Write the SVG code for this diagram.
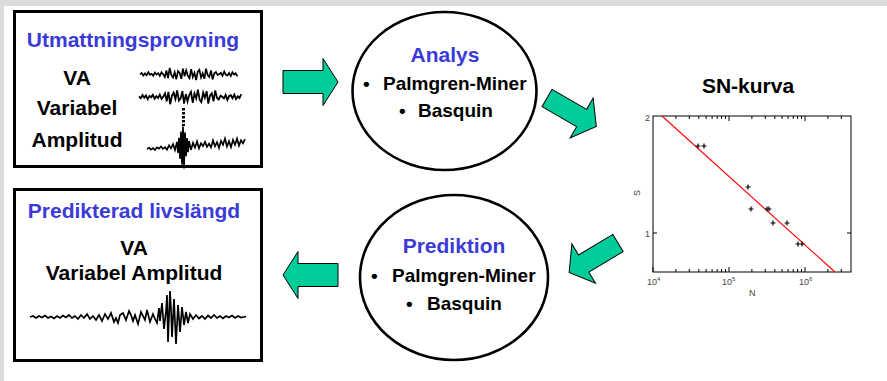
<svg xmlns="http://www.w3.org/2000/svg" xmlns:xlink="http://www.w3.org/1999/xlink" width="887" height="381" viewBox="0 0 887 381">
<style>
text{font-family:"Liberation Sans",Arial,sans-serif;font-weight:bold;}
.t{font-size:21px;fill:#000;text-anchor:middle;}
.h{font-size:21px;fill:#3a3ad8;text-anchor:middle;}
.b{font-size:19px;fill:#000;}
.box{fill:#fff;stroke:#000;stroke-width:3;}
.ell{fill:#fff;stroke:#000;stroke-width:2.6;}
.arr{fill:#00cc99;stroke:#000;stroke-width:1;stroke-linejoin:miter;}
.wave{fill:none;stroke:#000;stroke-width:1.7;stroke-linejoin:miter;}
.ax{fill:none;stroke:#000;stroke-width:1;}
.tl{font-family:"Liberation Sans",Arial,sans-serif;font-weight:normal;font-size:9px;fill:#444;}
.pt{stroke:#000;stroke-width:1.2;fill:none;}
</style>
<defs>
<path id="noise" d="M0 0.4 L1.7 -1 L3.3 1.6 L5 -0.6 L6.6 1.2 L8.3 -1.8 L9.9 0.8 L11.6 -0.2 L13.2 1.8 L14.9 -1.4 L16.5 0.6 L18.2 -0.8 L19.8 2 L21.5 -1.6 L23.1 0.2 L24.8 3 L26.4 -3.6 L28 4.2 L29.7 -6 L31.4 1.2 L33 3.6 L34.7 -1.8 L36.3 5.4 L38 -3 L39.6 -1.2 L41.3 4.8 L42.9 -5.4 L44.6 2.4 L46.2 -3.6 L47.9 1.8 L49.5 4.2 L51.2 -4.8 L52.8 3 L54.5 -1.2 L56.1 6 L57.8 -2.4 L59.4 -4.2 L61.1 3.6 L62.7 -0.6 L64.4 4.8 L66 -5.4 L67.7 1.2 L69.3 3 L71 -3.6 L72.6 5.4 L74.3 -0.75 L75.9 -2 L77.6 1 L79.2 0.25 L80.9 -1.25 L82.5 1.75 L84.2 -2.5 L85.8 0.75 L87.5 1.5 L89.1 -1 L90.8 2 L92.4 -1.75 L94.1 0.5 L95.7 -0.75 L97.4 2.25"/>
<path id="burst" d="M0 0 L2 -1 L4 1 L6 -0.5 L8 1.5 L10 -1 L12 0.5 L14 -1.5 L16 1 L18 -0.5 L20 2 L22 -2 L24 1 L26 -3 L28 3 L30 -5 L31 6 L32 -9 L33 12 L34 -15 L35 18 L36 -20 L37 22 L38 -14 L39 10 L40 -8 L41 6 L42 -5 L44 4 L46 -3 L48 2 L50 -4 L52 3 L54 -2 L56 1 L58 -3 L60 2 L62 -1 L64 3 L66 -4 L68 2 L70 -2 L72 4 L74 -3 L76 1 L78 -5 L80 3 L82 -2 L84 4 L86 -3 L88 2 L90 -4 L92 3 L94 -2 L96 1 L98 -3"/>
<path id="arrow" d="M0 -11.5 L40 -11.5 L40 -23.5 L55 0 L40 23.5 L40 11.5 L0 11.5 Z"/>
<path id="darrow" d="M0 -10 L40 -10 L40 -23 L57 0 L40 23 L40 10 L0 10 Z"/>
</defs>
<rect x="0" y="0" width="887" height="381" fill="#fff"/>
<rect x="0" y="0" width="887" height="6" fill="#dcdcdc"/>
<rect x="0" y="0" width="4" height="381" fill="#dcdcdc"/>

<g id="node-utmattning">
<rect class="box" x="14.5" y="11.5" width="247" height="155"/>
<text class="h" x="133" y="47">Utmattningsprovning</text>
<text class="t" x="77" y="85">VA</text>
<text class="t" x="77" y="115">Variabel</text>
<text class="t" x="77" y="147">Amplitud</text>
<use xlink:href="#noise" class="wave" transform="translate(140,74)"/>
<use xlink:href="#noise" class="wave" transform="translate(139,97) scale(1.05,-1.2)"/>
<line x1="183.5" y1="108" x2="183.5" y2="126" stroke="#000" stroke-width="3" stroke-dasharray="2.5,1.5"/>
<use xlink:href="#burst" class="wave" transform="translate(147,149) skewY(-4)"/>
</g>

<g id="node-predikterad">
<rect class="box" x="14.5" y="189.5" width="247" height="171"/>
<text class="h" x="134" y="218">Predikterad livslängd</text>
<text class="t" x="134" y="255">VA</text>
<text class="t" x="134" y="280">Variabel Amplitud</text>
<path class="wave" transform="translate(30,317)" d="M0 0 L3 -1 L6 1 L9 -1 L12 0.5 L15 -1.5 L18 1 L21 -0.5 L24 1.5 L27 -1 L30 1 L33 -1.5 L36 0.5 L39 -2 L42 1 L45 -1 L48 2 L51 -2 L54 1 L57 -3 L60 2 L63 -1 L66 3 L69 -2 L72 4 L75 -3 L78 2 L81 -4 L84 5 L86 1 L88 6 L90 -2 L93 -4 L96 3 L99 -6 L101 -2 L103 4 L105 -2 L108 7 L111 -5 L113 -1 L115 3 L117 -7 L120 5 L123 -3 L125 2 L127 6 L129 -9 L130 4 L132 -14 L134 12 L136 -6 L137 -22 L138 25 L140 -26 L141 -8 L142 20 L144 -18 L145 5 L146 27 L148 -12 L150 15 L152 -10 L154 8 L156 -5 L158 6 L160 -3 L163 2 L166 -2 L169 1.5 L172 -1 L175 2 L178 -1.5 L181 1 L184 -2 L187 1 L190 -1 L193 1.5 L196 -1 L199 0.5 L202 -1.5 L205 1 L208 -1 L211 0.5 L216 -0.5"/>
</g>

<g id="node-analys">
<ellipse class="ell" cx="444.5" cy="91" rx="92" ry="79"/>
<text class="h" x="445" y="62">Analys</text>
<text class="b" x="363" y="90">•</text>
<text class="b" x="383" y="90">Palmgren-Miner</text>
<text class="b" x="399" y="117">•</text>
<text class="b" x="418" y="117">Basquin</text>
</g>

<g id="node-prediktion">
<ellipse class="ell" cx="454" cy="277.5" rx="94" ry="82.5"/>
<text class="h" x="454" y="253">Prediktion</text>
<text class="b" x="371" y="282">•</text>
<text class="b" x="392" y="282">Palmgren-Miner</text>
<text class="b" x="406" y="310">•</text>
<text class="b" x="427" y="310">Basquin</text>
</g>

<g id="node-snkurva">
<text class="t" x="748" y="93">SN-kurva</text>
<rect x="653" y="116" width="198" height="156" fill="#fff" stroke="#000" stroke-width="1"/>
<path class="ax" d="M653 272v-5M675.9 272v-3M689.3 272v-3M698.8 272v-3M706.1 272v-3M712.1 272v-3M717.2 272v-3M721.6 272v-3M725.5 272v-3M729 272v-5M751.9 272v-3M765.3 272v-3M774.8 272v-3M782.1 272v-3M788.1 272v-3M793.2 272v-3M797.6 272v-3M801.5 272v-3M805 272v-5M827.9 272v-3M841.3 272v-3
M675.9 116v3M689.3 116v3M698.8 116v3M706.1 116v3M712.1 116v3M717.2 116v3M721.6 116v3M725.5 116v3M729 116v5M751.9 116v3M765.3 116v3M774.8 116v3M782.1 116v3M788.1 116v3M793.2 116v3M797.6 116v3M801.5 116v3M805 116v5M827.9 116v3M841.3 116v3
M653 233h4M851 233h-4"/>
<line x1="662" y1="116" x2="835" y2="272" stroke="#ff0000" stroke-width="1.1"/>
<path class="pt" d="M695.5 146h5M698 143.5v5M701.5 146h5M704 143.5v5M745.5 187h5M748 184.5v5M748.5 209h5M751 206.5v5M764.5 209h5M767 206.5v5M766.5 209h5M769 206.5v5M770.5 223h5M773 220.5v5M784.5 223h5M787 220.5v5M795.5 244h5M798 241.5v5M799.5 244h5M802 241.5v5"/>
<text class="tl" x="645" y="121">2</text>
<text class="tl" x="645" y="237">1</text>
<text class="tl" x="647" y="285">10<tspan font-size="6" dy="-4">4</tspan></text>
<text class="tl" x="722" y="285">10<tspan font-size="6" dy="-4">5</tspan></text>
<text class="tl" x="799" y="285">10<tspan font-size="6" dy="-4">6</tspan></text>
<text class="tl" x="749" y="296">N</text>
<text class="tl" x="640" y="193" transform="rotate(-90 640 193)" text-anchor="middle">S</text>
</g>

<g id="connectors">
<use xlink:href="#arrow" class="arr" transform="translate(283,82)"/>
<use xlink:href="#darrow" class="arr" transform="translate(547,98) rotate(30)"/>
<use xlink:href="#darrow" class="arr" transform="translate(618,243) rotate(149)"/>
<use xlink:href="#arrow" class="arr" transform="translate(338,275) rotate(180)"/>
</g>
</svg>
